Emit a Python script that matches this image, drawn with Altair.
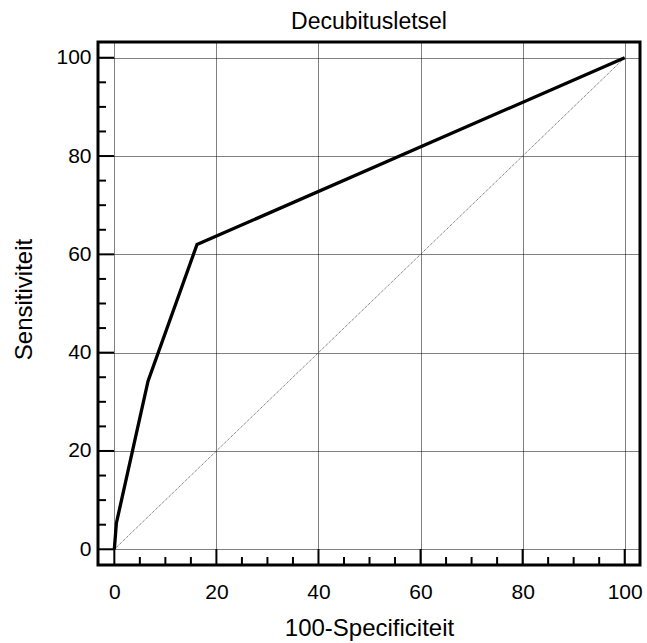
import altair as alt
import pandas as pd

# ROC curve points (100-specificity, sensitivity)
fpr = [0, 0.4, 6.6, 16.2, 100]
tpr = [0, 5.3, 34.2, 62.0, 100]

# Chance line
diag_x = [0, 100]
diag_y = [0, 100]

# Axis tick positions
major_ticks = [0, 20, 40, 60, 80, 100]
minor_ticks = [5, 10, 15, 25, 30, 35, 45, 50, 55, 65, 70, 75, 85, 90, 95]

W, H = 542, 523
FONT = "Liberation Sans"

x_scale = alt.Scale(domain=[-3.2, 103], nice=False, zero=False)
y_scale = alt.Scale(domain=[-3.2, 103.2], nice=False, zero=False)

x_axis = alt.Axis(values=major_ticks, labelPadding=16, titleY=70,
                  titleBaseline="alphabetic")
y_axis = alt.Axis(values=major_ticks, labelPadding=7, titleX=-67, titleY=257,
                  titleBaseline="alphabetic")
X_TITLE = "100-Specificiteit"
Y_TITLE = "Sensitiviteit"

roc = pd.DataFrame({"x": fpr, "y": tpr})
diag = pd.DataFrame({"x": diag_x, "y": diag_y})
majors = pd.DataFrame({"x": major_ticks, "y": major_ticks})
minors = pd.DataFrame({"x": minor_ticks, "y": minor_ticks})


def X():
    return alt.X("x:Q", scale=x_scale, axis=x_axis, title=X_TITLE)


def Y():
    return alt.Y("y:Q", scale=y_scale, axis=y_axis, title=Y_TITLE)


# Dotted chance diagonal
base = alt.Chart(diag).mark_line(color="#555555", strokeWidth=1, strokeDash=[1, 1]).encode(
    x=X(), y=Y()
)

# ROC curve
curve = alt.Chart(roc).mark_line(color="black", strokeWidth=3.3, strokeJoin="miter").encode(
    x=X(), y=Y()
)


# Inward-pointing ticks along the bottom and left edges
def x_ticks(df, length):
    return alt.Chart(df).mark_rule(color="black", strokeWidth=2).encode(
        x=X(), y=alt.value(H), y2=alt.value(H - length),
    )


def y_ticks(df, length):
    return alt.Chart(df).mark_rule(color="black", strokeWidth=2).encode(
        y=Y(), x=alt.value(0), x2=alt.value(length),
    )


chart = alt.layer(
    base,
    x_ticks(majors, 16), x_ticks(minors, 8),
    y_ticks(majors, 16), y_ticks(minors, 8),
    curve,
).properties(
    width=W, height=H,
    autosize="none",
    padding={"left": 98, "top": 42, "right": 7, "bottom": 78},
    title="Decubitusletsel",
).configure_title(
    font=FONT, fontSize=23, fontWeight="normal", color="black",
    baseline="alphabetic", offset=8,
).configure_view(
    stroke="black", strokeWidth=3
).configure_axis(
    domain=False, ticks=False,
    grid=True, gridColor="black", gridDash=[1, 1], gridWidth=1, gridOpacity=1,
    labelFont=FONT, labelFontSize=21, labelColor="black",
    titleFont=FONT, titleFontSize=24, titleFontWeight="normal", titleColor="black",
)

chart.save("out.html", embed_options={"renderer": "svg", "actions": False})
